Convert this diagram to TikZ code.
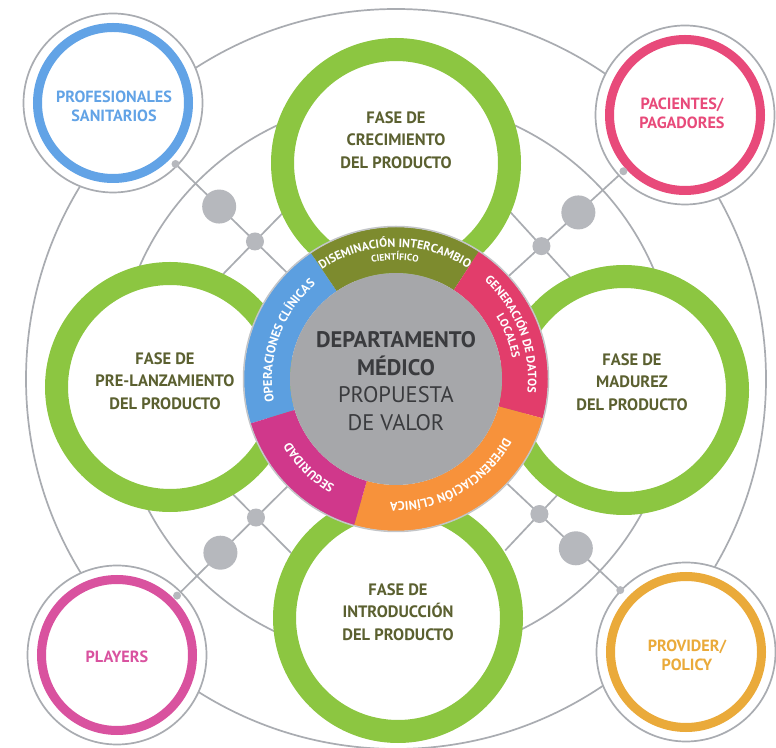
\documentclass[tikz,border=0pt]{standalone}
\usepackage{fontspec}
\setmainfont{PT Sans}
\usetikzlibrary{calc,decorations.text}
\definecolor{lgray}{HTML}{A9ACB1}
\definecolor{dotgray}{HTML}{B6B8BD}
\definecolor{fgreen}{HTML}{8CC641}
\definecolor{olivetxt}{HTML}{5B6030}
\definecolor{cblue}{HTML}{62A3E6}
\definecolor{cpink}{HTML}{E84A7A}
\definecolor{cmag}{HTML}{D9529F}
\definecolor{cgold}{HTML}{EAAA3A}
\definecolor{sblue}{HTML}{5C9FE0}
\definecolor{solive}{HTML}{7D8B2E}
\definecolor{sred}{HTML}{E23D6B}
\definecolor{sorange}{HTML}{F7923B}
\definecolor{smag}{HTML}{D0388B}
\definecolor{diskgray}{HTML}{A6A7AA}
\definecolor{dtext}{HTML}{3A3B3E}
\begin{document}
\begin{tikzpicture}[x=1pt,y=1pt,
  grayline/.style={draw=lgray, line width=1.7},
  outerring/.style={circle, fill=white, draw=lgray, line width=1.7, minimum size=179, inner sep=0},
  cring/.style={circle, draw=#1, line width=9, minimum size=151, inner sep=0},
  greenring/.style={circle, fill=white, draw=fgreen, line width=23, minimum size=227, inner sep=0},
  dotbig/.style={circle, fill=dotgray, minimum size=34, inner sep=0},
  dotmid/.style={circle, fill=dotgray, minimum size=18, inner sep=0},
  dotsmall/.style={circle, fill=dotgray, minimum size=8, inner sep=0},
  phase/.style={align=center, text=olivetxt, font=\bfseries\fontsize{16.5}{22.5}\selectfont},
  cornerlbl/.style={align=center, text=#1, font=\bfseries\fontsize{16.2}{19}\selectfont},
  ringtxt/.style={decorate, decoration={text along path, text align=center, text color=white, text={#1}}}
]
\useasboundingbox (0,0) rectangle (776,747);
\fill[white] (0,0) rectangle (776,747);

\coordinate (C) at (396,368);
\coordinate (TLc) at (113,644);
\coordinate (TRc) at (685,632);
\coordinate (BLc) at (117,92);
\coordinate (BRc) at (686,95);

% background gray circles
\draw[grayline] (C) circle[radius=280];
\draw[grayline] (C) circle[radius=370];

% diagonals and cross lines
\foreach \k in {TL,TR,BL,BR}{
  \draw[grayline] (C) -- (\k c);
  \coordinate (\k s) at ($(C)!197pt!(\k c)$);
  \coordinate (\k b) at ($(C)!247pt!(\k c)$);
  \draw[grayline] ($(\k s)!50pt!90:(C)$) -- ($(\k s)!50pt!-90:(C)$);
}

% green phase circles
\node[greenring] (gtop) at (396,584) {};
\node[greenring] (gleft) at (170,360) {};
\node[greenring] (gright) at (624,357) {};
\node[greenring] (gbot) at (398,129) {};

% corner circles
\node[outerring] (TLo) at (TLc) {};
\node[cring=cblue] (TL) at (TLc) {};
\node[outerring] (TRo) at (TRc) {};
\node[cring=cpink] (TR) at (TRc) {};
\node[outerring] (BLo) at (BLc) {};
\node[cring=cmag] (BL) at (BLc) {};
\node[outerring] (BRo) at (BRc) {};
\node[cring=cgold] (BR) at (BRc) {};

% dots
\foreach \k in {TL,TR,BL,BR}{
  \node[dotmid] (\k dm) at (\k s) {};
  \node[dotbig] (\k db) at (\k b) {};
  \node[dotsmall] (\k dt) at ($(C)!308pt!(\k c)$) {};
}

% central ring segments
\foreach \a/\b/\c in {124/197/sblue, 57/124/solive, -15/57/sred, -106/-15/sorange, -163/-106/smag}{
  \fill[\c] ($(C)+(\a:152)$) arc[start angle=\a, end angle=\b, radius=152]
     -- ($(C)+(\b:106)$) arc[start angle=\b, end angle=\a, radius=106] -- cycle;
}
\draw[lgray!70, line width=1.5] (C) circle[radius=152.5];
\fill[diskgray] (C) circle[radius=106];

% ring texts (clockwise arcs)
\path[ringtxt={|\bfseries\fontsize{12}{14}\selectfont|DISEMINACIÓN INTERCAMBIO}]
  ($(C)+(140:132)$) arc[start angle=140, end angle=41, radius=132];
\path[ringtxt={|\bfseries\fontsize{9.5}{11}\selectfont|CIENTÍFICO}]
  ($(C)+(130:119)$) arc[start angle=130, end angle=51, radius=119];
\path[ringtxt={|\bfseries\fontsize{12}{14}\selectfont|GENERACIÓN DE DATOS}]
  ($(C)+(70:132)$) arc[start angle=70, end angle=-28, radius=132];
\path[ringtxt={|\bfseries\fontsize{11.5}{13}\selectfont|LOCALES}]
  ($(C)+(60:118)$) arc[start angle=60, end angle=-18, radius=118];
\path[ringtxt={|\bfseries\fontsize{12.5}{14}\selectfont|DIFERENCIACIÓN CLÍNICA}]
  ($(C)+(-5:123)$) arc[start angle=-5, end angle=-116, radius=123];
\path[ringtxt={|\bfseries\fontsize{12.5}{14}\selectfont|SEGURIDAD}]
  ($(C)+(-94:123)$) arc[start angle=-94, end angle=-175, radius=123];
\path[ringtxt={|\bfseries\fontsize{12.5}{14}\selectfont|OPERACIONES CLÍNICAS}]
  ($(C)+(210:124)$) arc[start angle=210, end angle=111, radius=124];

% central text
\node[align=center, text=dtext, font=\fontsize{22.5}{27.5}\selectfont] (ctext) at (396,366)
  {\textbf{DEPARTAMENTO}\\\textbf{MÉDICO}\\PROPUESTA\\DE VALOR};

% phase labels
\node[phase] (ltop) at (396,607) {FASE DE\\CRECIMIENTO\\DEL PRODUCTO};
\node[phase] (lleft) at (165,366) {FASE DE\\PRE-LANZAMIENTO\\DEL PRODUCTO};
\node[phase] (lright) at (632,365) {FASE DE\\MADUREZ\\DEL PRODUCTO};
\node[phase] (lbot) at (398,135) {FASE DE\\INTRODUCCIÓN\\DEL PRODUCTO};

% corner labels
\node[cornerlbl=cblue] (tltxt) at (114,641) {PROFESIONALES\\SANITARIOS};
\node[cornerlbl=cpink] (trtxt) at (682,634) {PACIENTES/\\PAGADORES};
\node[cornerlbl=cmag] (bltxt) at (117,90) {PLAYERS};
\node[cornerlbl=cgold] (brtxt) at (687,92) {PROVIDER/\\POLICY};
\end{tikzpicture}
\end{document}
